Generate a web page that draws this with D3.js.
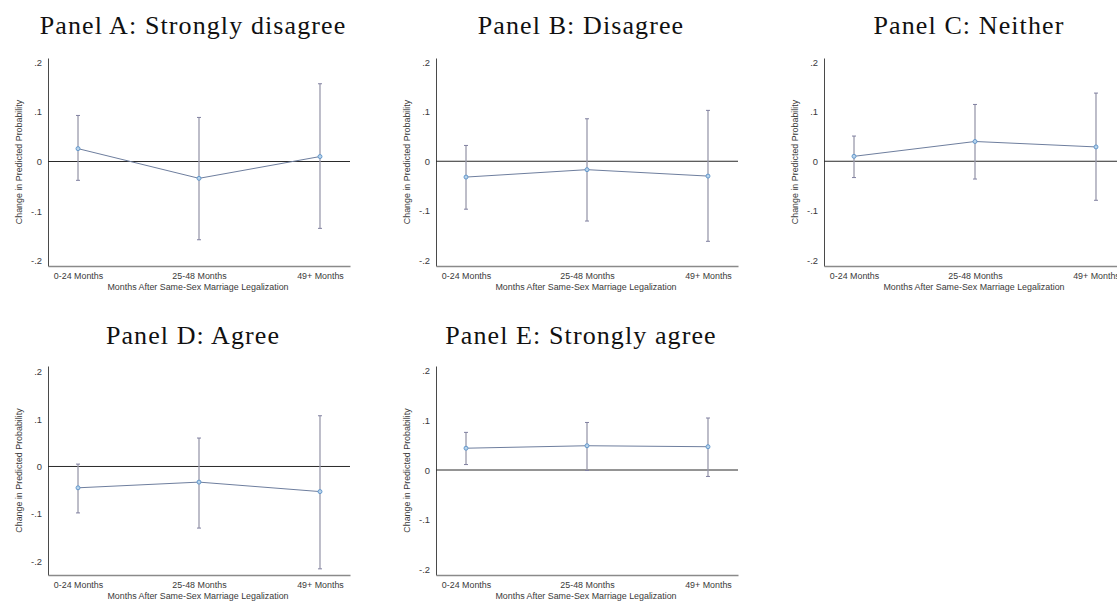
<!DOCTYPE html>
<html>
<head>
<meta charset="utf-8">
<script src="https://cdn.jsdelivr.net/npm/d3@7"></script>
<style>
  html, body { margin: 0; padding: 0; background: #fff; }
  svg { display: block; }
</style>
</head>
<body>
<svg id="chart"></svg>
<script>
// categories on the x axis
const categories = ['0-24 Months', '25-48 Months', '49+ Months']
const panelTitles = [
    'Panel A: Strongly disagree',
    'Panel B: Disagree',
    'Panel C: Neither',
    'Panel D: Agree',
    'Panel E: Strongly agree'
]
// point estimates and 95% CI, one row per panel
const estimates = [
    [0.026, -0.034, 0.010],
    [-0.032, -0.017, -0.030],
    [0.010, 0.040, 0.029],
    [-0.045, -0.033, -0.053],
    [0.044, 0.049, 0.047]
]
const lowerCI = [
    [-0.038, -0.158, -0.135],
    [-0.097, -0.121, -0.162],
    [-0.033, -0.036, -0.079],
    [-0.098, -0.130, -0.216],
    [0.011, -0.001, -0.013]
]
const upperCI = [
    [0.093, 0.089, 0.157],
    [0.032, 0.086, 0.103],
    [0.051, 0.115, 0.138],
    [0.005, 0.060, 0.107],
    [0.076, 0.096, 0.105]
]
const yDomains = [
    [-0.211, 0.209],
    [-0.212, 0.209],
    [-0.212, 0.209],
    [-0.229, 0.212],
    [-0.212, 0.210]
]
const yTicks = [-0.2, -0.1, 0, 0.1, 0.2]
const yTickLabels = ['-.2', '-.1', '0', '.1', '.2']
const yTitle = 'Change in Predicted Probability'
const xTitle = 'Months After Same-Sex Marriage Legalization'

// panel placement (pixels)
const W = 1117, H = 601
const plotWidth = 302
const layout = [
    {left: 48, top: 58, bottom: 266, titleY: 34},
    {left: 436, top: 58, bottom: 266, titleY: 34},
    {left: 824, top: 58, bottom: 266, titleY: 34},
    {left: 48, top: 366, bottom: 575, titleY: 344},
    {left: 436, top: 366, bottom: 575, titleY: 344}
]

const sans = "'Liberation Sans', Arial, sans-serif"
const serif = "'Liberation Serif', 'Times New Roman', serif"

const svg = d3.select('#chart').attr('width', W).attr('height', H)

panelTitles.forEach(function (title, i) {
    const L = layout[i]
    const x = d3.scalePoint()
        .domain(categories)
        .range([L.left, L.left + plotWidth])
        .padding(0.248)
    const y = d3.scaleLinear()
        .domain(yDomains[i])
        .range([L.bottom, L.top])

    const g = svg.append('g').attr('class', 'panel')

    // panel title
    g.append('text')
        .attr('x', L.left + plotWidth / 2 - 6)
        .attr('y', L.titleY)
        .attr('text-anchor', 'middle')
        .style('font-family', serif)
        .style('font-size', '26px')
        .style('letter-spacing', '1.1px')
        .style('fill', '#111')
        .text(title)

    // y axis
    const ya = g.append('g')
        .attr('transform', 'translate(' + L.left + ',0)')
        .call(d3.axisLeft(y).tickValues(yTicks).tickSize(0).tickPadding(6)
            .tickFormat((d, k) => yTickLabels[k]))
    ya.select('.domain').attr('stroke', '#4a4a4a').attr('stroke-width', 1)
    ya.selectAll('text')
        .style('font-family', sans)
        .style('font-size', '9.4px')
        .style('fill', '#3a3a3a')

    // x axis
    const xa = g.append('g')
        .attr('transform', 'translate(0,' + L.bottom + ')')
        .call(d3.axisBottom(x).tickSize(0).tickPadding(7))
    xa.select('.domain').attr('stroke', '#8a8a8a').attr('stroke-width', 1.6)
    xa.selectAll('text')
        .style('font-family', sans)
        .style('font-size', '8.9px')
        .style('fill', '#3a3a3a')

    // axis titles
    g.append('text')
        .attr('transform', 'translate(' + (L.left - 29.5) + ',' + ((L.top + L.bottom) / 2) + ') rotate(-90)')
        .attr('dy', '0.35em')
        .attr('text-anchor', 'middle')
        .style('font-family', sans)
        .style('font-size', '8.9px')
        .style('fill', '#3a3a3a')
        .text(yTitle)
    g.append('text')
        .attr('x', L.left + plotWidth / 2 - 1)
        .attr('y', L.bottom + 24)
        .attr('text-anchor', 'middle')
        .style('font-family', sans)
        .style('font-size', '8.9px')
        .style('fill', '#3a3a3a')
        .text(xTitle)

    // zero reference line
    g.append('line')
        .attr('x1', L.left).attr('x2', L.left + plotWidth)
        .attr('y1', y(0)).attr('y2', y(0))
        .attr('stroke', '#2a2a2a')
        .attr('stroke-width', 1)

    const pts = categories.map((c, k) => ({
        cat: c, est: estimates[i][k], lo: lowerCI[i][k], hi: upperCI[i][k]
    }))

    // confidence intervals
    const ci = g.append('g').attr('class', 'ci')
    ci.selectAll('line.bar').data(pts).enter().append('line')
        .attr('x1', d => x(d.cat)).attr('x2', d => x(d.cat))
        .attr('y1', d => y(d.lo)).attr('y2', d => y(d.hi))
        .attr('stroke', '#9a9aac').attr('stroke-width', 1.3)
    ci.selectAll('line.capHi').data(pts).enter().append('line')
        .attr('x1', d => x(d.cat) - 2).attr('x2', d => x(d.cat) + 2)
        .attr('y1', d => y(d.hi)).attr('y2', d => y(d.hi))
        .attr('stroke', '#8080a0').attr('stroke-width', 1)
    ci.selectAll('line.capLo').data(pts).enter().append('line')
        .attr('x1', d => x(d.cat) - 2).attr('x2', d => x(d.cat) + 2)
        .attr('y1', d => y(d.lo)).attr('y2', d => y(d.lo))
        .attr('stroke', '#8080a0').attr('stroke-width', 1)

    // connecting line
    const line = d3.line().x(d => x(d.cat)).y(d => y(d.est))
    g.append('path')
        .datum(pts)
        .attr('d', line)
        .attr('fill', 'none')
        .attr('stroke', '#6e7e9e')
        .attr('stroke-width', 1)

    // point markers
    g.selectAll('circle.pt').data(pts).enter().append('circle')
        .attr('cx', d => x(d.cat))
        .attr('cy', d => y(d.est))
        .attr('r', 2)
        .attr('fill', '#b8d4ec')
        .attr('stroke', '#5b92c8')
        .attr('stroke-width', 0.9)
})
</script>
</body>
</html>
